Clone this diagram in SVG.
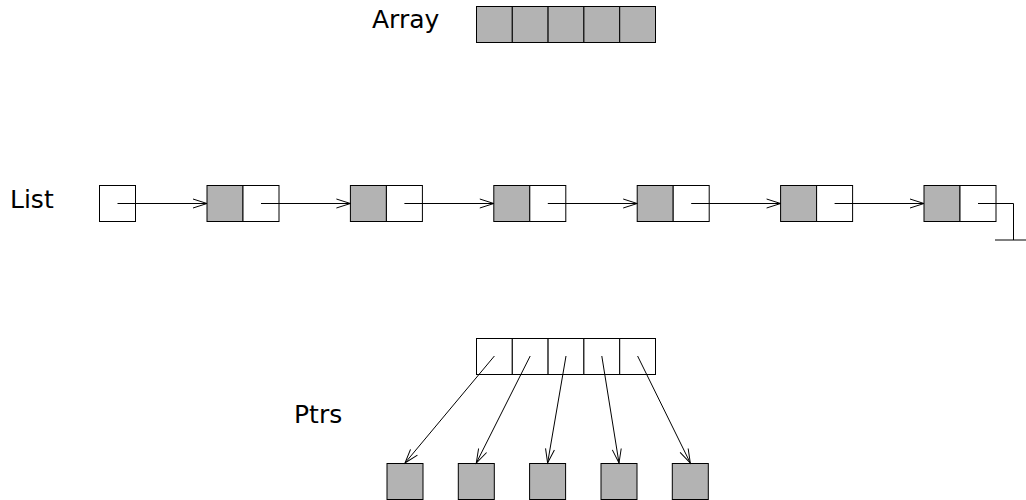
<svg xmlns="http://www.w3.org/2000/svg" width="1026" height="500" viewBox="0 0 1026 500">
<style>
.f{fill:#b3b3b3;stroke:#000;stroke-width:1}
.w{fill:#fff;stroke:#000;stroke-width:1}
.c{stroke:#000;stroke-width:1;fill:none}
.t{font-family:"DejaVu Sans",sans-serif;font-size:25px;fill:#000}
</style>
<defs>
<marker id="ah" markerUnits="userSpaceOnUse" markerWidth="20" markerHeight="12" viewBox="-16 -6 18 12" refX="0" refY="0" orient="auto">
<path d="M-14,-4.5 L0,0 L-14,4.5" fill="none" stroke="#000" stroke-width="1"/>
</marker>
</defs>
<rect width="1026" height="500" fill="#fff"/>
<text class="t" x="372" y="28">Array</text>
<text class="t" x="10" y="208">List</text>
<text class="t" x="294" y="423">Ptrs</text>
<g id="array">
<rect class="f" x="476.5" y="6.5" width="35.8" height="36"/>
<rect class="f" x="512.3" y="6.5" width="35.8" height="36"/>
<rect class="f" x="548.1" y="6.5" width="35.8" height="36"/>
<rect class="f" x="583.9" y="6.5" width="35.8" height="36"/>
<rect class="f" x="619.7" y="6.5" width="35.8" height="36"/>
</g>
<g id="list-head"><rect class="w" x="99.5" y="185.5" width="36" height="36"/></g>
<g id="list-node1"><rect class="f" x="207" y="185.5" width="36" height="36"/><rect class="w" x="243" y="185.5" width="36" height="36"/></g>
<g id="list-node2"><rect class="f" x="350.4" y="185.5" width="36" height="36"/><rect class="w" x="386.4" y="185.5" width="36" height="36"/></g>
<g id="list-node3"><rect class="f" x="493.8" y="185.5" width="36" height="36"/><rect class="w" x="529.8" y="185.5" width="36" height="36"/></g>
<g id="list-node4"><rect class="f" x="637.2" y="185.5" width="36" height="36"/><rect class="w" x="673.2" y="185.5" width="36" height="36"/></g>
<g id="list-node5"><rect class="f" x="780.6" y="185.5" width="36" height="36"/><rect class="w" x="816.6" y="185.5" width="36" height="36"/></g>
<g id="list-node6"><rect class="f" x="924" y="185.5" width="36" height="36"/><rect class="w" x="960" y="185.5" width="36" height="36"/></g>
<g id="ptrs">
<rect class="w" x="476.5" y="338.5" width="35.8" height="36"/>
<rect class="w" x="512.3" y="338.5" width="35.8" height="36"/>
<rect class="w" x="548.1" y="338.5" width="35.8" height="36"/>
<rect class="w" x="583.9" y="338.5" width="35.8" height="36"/>
<rect class="w" x="619.7" y="338.5" width="35.8" height="36"/>
</g>
<g id="target1"><rect class="f" x="387" y="463.5" width="36" height="36"/></g>
<g id="target2"><rect class="f" x="458.3" y="463.5" width="36" height="36"/></g>
<g id="target3"><rect class="f" x="529.6" y="463.5" width="36" height="36"/></g>
<g id="target4"><rect class="f" x="601" y="463.5" width="36" height="36"/></g>
<g id="target5"><rect class="f" x="672.3" y="463.5" width="36" height="36"/></g>
<g id="connectors">
<line class="c" x1="117.5" y1="203.5" x2="207" y2="203.5" marker-end="url(#ah)"/>
<line class="c" x1="261" y1="203.5" x2="350.4" y2="203.5" marker-end="url(#ah)"/>
<line class="c" x1="404.4" y1="203.5" x2="493.8" y2="203.5" marker-end="url(#ah)"/>
<line class="c" x1="547.8" y1="203.5" x2="637.2" y2="203.5" marker-end="url(#ah)"/>
<line class="c" x1="691.2" y1="203.5" x2="780.6" y2="203.5" marker-end="url(#ah)"/>
<line class="c" x1="834.6" y1="203.5" x2="924" y2="203.5" marker-end="url(#ah)"/>
<polyline class="c" points="978,203.5 1013.5,203.5 1013.5,240"/>
<line class="c" x1="995" y1="240" x2="1026" y2="240"/>
<line class="c" x1="494.4" y1="356" x2="405" y2="463" marker-end="url(#ah)"/>
<line class="c" x1="530.2" y1="356" x2="476.3" y2="463" marker-end="url(#ah)"/>
<line class="c" x1="566" y1="356" x2="547.6" y2="463" marker-end="url(#ah)"/>
<line class="c" x1="601.8" y1="356" x2="619" y2="463" marker-end="url(#ah)"/>
<line class="c" x1="637.6" y1="356" x2="690.3" y2="463" marker-end="url(#ah)"/>
</g>
</svg>
